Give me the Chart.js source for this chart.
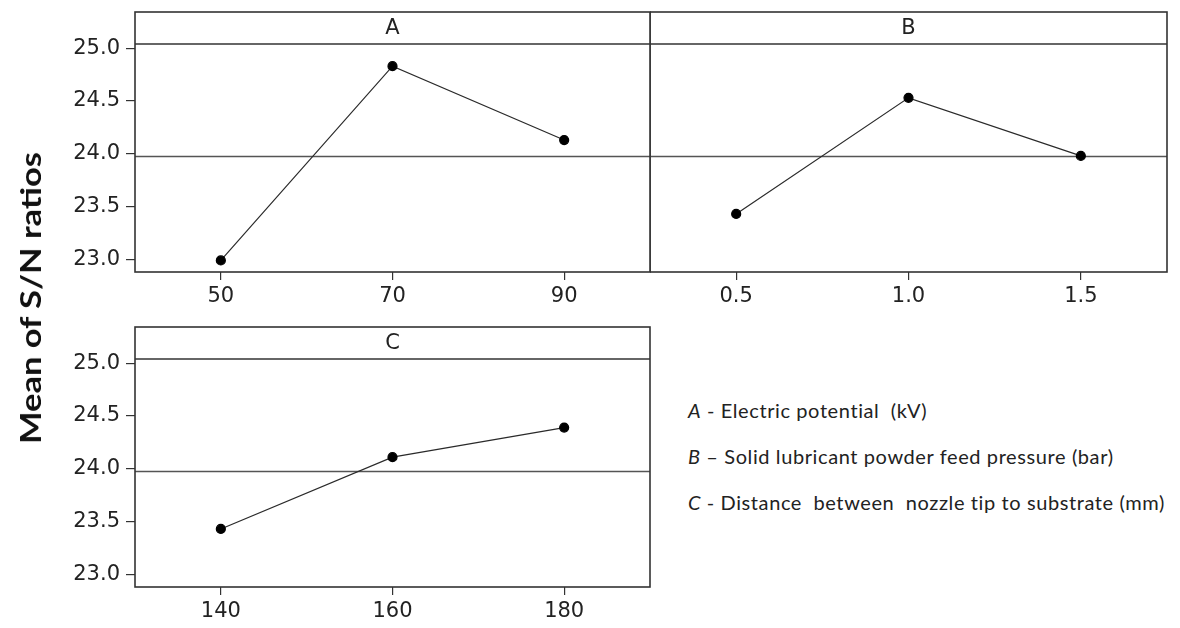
<!DOCTYPE html>
<html>
<head>
<meta charset="utf-8">
<script src="https://cdn.jsdelivr.net/npm/chart.js@4.4.1/dist/chart.umd.min.js"></script>
<style>
  html, body { margin: 0; padding: 0; background: #fff; }
  #wrap { position: relative; width: 1180px; height: 628px; overflow: hidden; }
  canvas { position: absolute; }
  #cA { left: 0; top: 0; }
  #cB { left: 650px; top: 0; }
  #cC { left: 0; top: 315px; }
  #ytitle {
    position: absolute; left: 30px; top: 298px;
    transform: translate(-50%, -50%) rotate(-90deg) scaleX(1.23);
    font: bold 28px Lato; color: #111; white-space: nowrap;
  }
  #legend {
    position: absolute; left: 688px; top: 387px;
    font: 20px Lato; letter-spacing: 0.6px; color: #222; line-height: 46px; white-space: nowrap;
  }
  #legend i { font-style: italic; }
</style>
</head>
<body>
<div id="wrap">
  <canvas id="cA" width="660" height="320"></canvas>
  <canvas id="cB" width="530" height="320"></canvas>
  <canvas id="cC" width="660" height="313"></canvas>
  <div id="ytitle">Mean of S/N ratios</div>
  <div id="legend">
    <div><i>A</i> - Electric potential&nbsp; (kV)</div>
    <div><i>B</i> – Solid lubricant powder feed pressure (bar)</div>
    <div><i>C</i> - Distance&nbsp; between&nbsp; nozzle tip to substrate (mm)</div>
  </div>
</div>
<script>
'use strict';

/* ── data ── */
const levelsA = ['50', '70', '90'];
const snA     = [22.99, 24.83, 24.13];
const levelsB = ['0.5', '1.0', '1.5'];
const snB     = [23.43, 24.53, 23.98];
const levelsC = ['140', '160', '180'];
const snC     = [23.43, 24.11, 24.39];
const yTicks  = [23.0, 23.5, 24.0, 24.5, 25.0];
const yMin = 22.88, yMax = 25.04;

const TICK_FONT = { family: 'DejaVu Sans', size: 21 };
const HEADER_H  = 32;

// header strip, mean line and frame box, like minitab panels
const panelFrame = {
    id: 'panelFrame',
    beforeDatasetsDraw(chart) {
        const { ctx, chartArea: a, scales: { y } } = chart;
        const vals = chart.data.datasets[0].data;
        const mean = vals.reduce((s, v) => s + v, 0) / vals.length;
        const my   = Math.round(y.getPixelForValue(mean)) + 0.5;
        ctx.save();
        ctx.strokeStyle = '#555';
        ctx.lineWidth = 1.3;
        ctx.beginPath();
        ctx.moveTo(a.left, my);
        ctx.lineTo(a.right, my);
        ctx.stroke();
        ctx.restore();
    },
    afterDraw(chart, args, opts) {
        const { ctx, chartArea: a } = chart;
        ctx.save();
        ctx.strokeStyle = '#333';
        ctx.lineWidth = 1.6;
        ctx.strokeRect(a.left, a.top - HEADER_H, a.right - a.left, a.bottom - a.top + HEADER_H);
        ctx.beginPath();
        ctx.moveTo(a.left, a.top);
        ctx.lineTo(a.right, a.top);
        ctx.stroke();
        ctx.fillStyle = '#222';
        ctx.font = '21px "DejaVu Sans"';
        ctx.textAlign = 'center';
        ctx.textBaseline = 'middle';
        ctx.fillText(opts.letter, (a.left + a.right) / 2, a.top - HEADER_H / 2 + 1);
        ctx.restore();
    }
};

function makePanel(canvasId, letter, labels, values, showY, pad) {
    return new Chart(document.getElementById(canvasId), {
        type: 'line',
        data: {
            labels,
            datasets: [{
                data: values,
                borderColor: '#2a2a2a',
                borderWidth: 1.2,
                pointRadius: 4.5,
                pointHoverRadius: 4.5,
                pointBackgroundColor: '#000',
                pointBorderColor: '#000',
                tension: 0,
                clip: false
            }]
        },
        options: {
            responsive: false,
            animation: false,
            layout: { autoPadding: false, padding: { top: 44, right: pad.right, left: 0, bottom: 0 } },
            plugins: {
                legend: { display: false },
                tooltip: { enabled: false },
                panelFrame: { letter }
            },
            scales: {
                x: {
                    type: 'category',
                    offset: true,
                    grid: { display: true, drawOnChartArea: false, drawTicks: true, tickLength: 8, color: '#333', lineWidth: 1.2 },
                    border: { display: false },
                    ticks: { font: TICK_FONT, color: '#222', padding: 4, maxRotation: 0 },
                    afterFit: s => {
                        s.height = pad.xh;
                        // labels sit well inside the box, no edge padding needed
                        s.paddingLeft = 0;
                        s.paddingRight = 0;
                    }
                },
                y: {
                    display: showY,
                    min: yMin,
                    max: yMax,
                    grid: { display: true, drawOnChartArea: false, drawTicks: true, tickLength: 9, color: '#333', lineWidth: 1.2 },
                    border: { display: false },
                    ticks: { font: TICK_FONT, color: '#222', padding: 6, callback: v => Number(v).toFixed(1) },
                    afterBuildTicks: s => { s.ticks = yTicks.map(v => ({ value: v })); },
                    afterFit: s => { s.width = showY ? 135 : 0; }
                }
            }
        },
        plugins: [panelFrame]
    });
}

makePanel('cA', 'A', levelsA, snA, true,  { right: 10, xh: 48 });
makePanel('cB', 'B', levelsB, snB, false, { right: 13, xh: 48 });
makePanel('cC', 'C', levelsC, snC, true,  { right: 10, xh: 41 });
</script>
</body>
</html>
